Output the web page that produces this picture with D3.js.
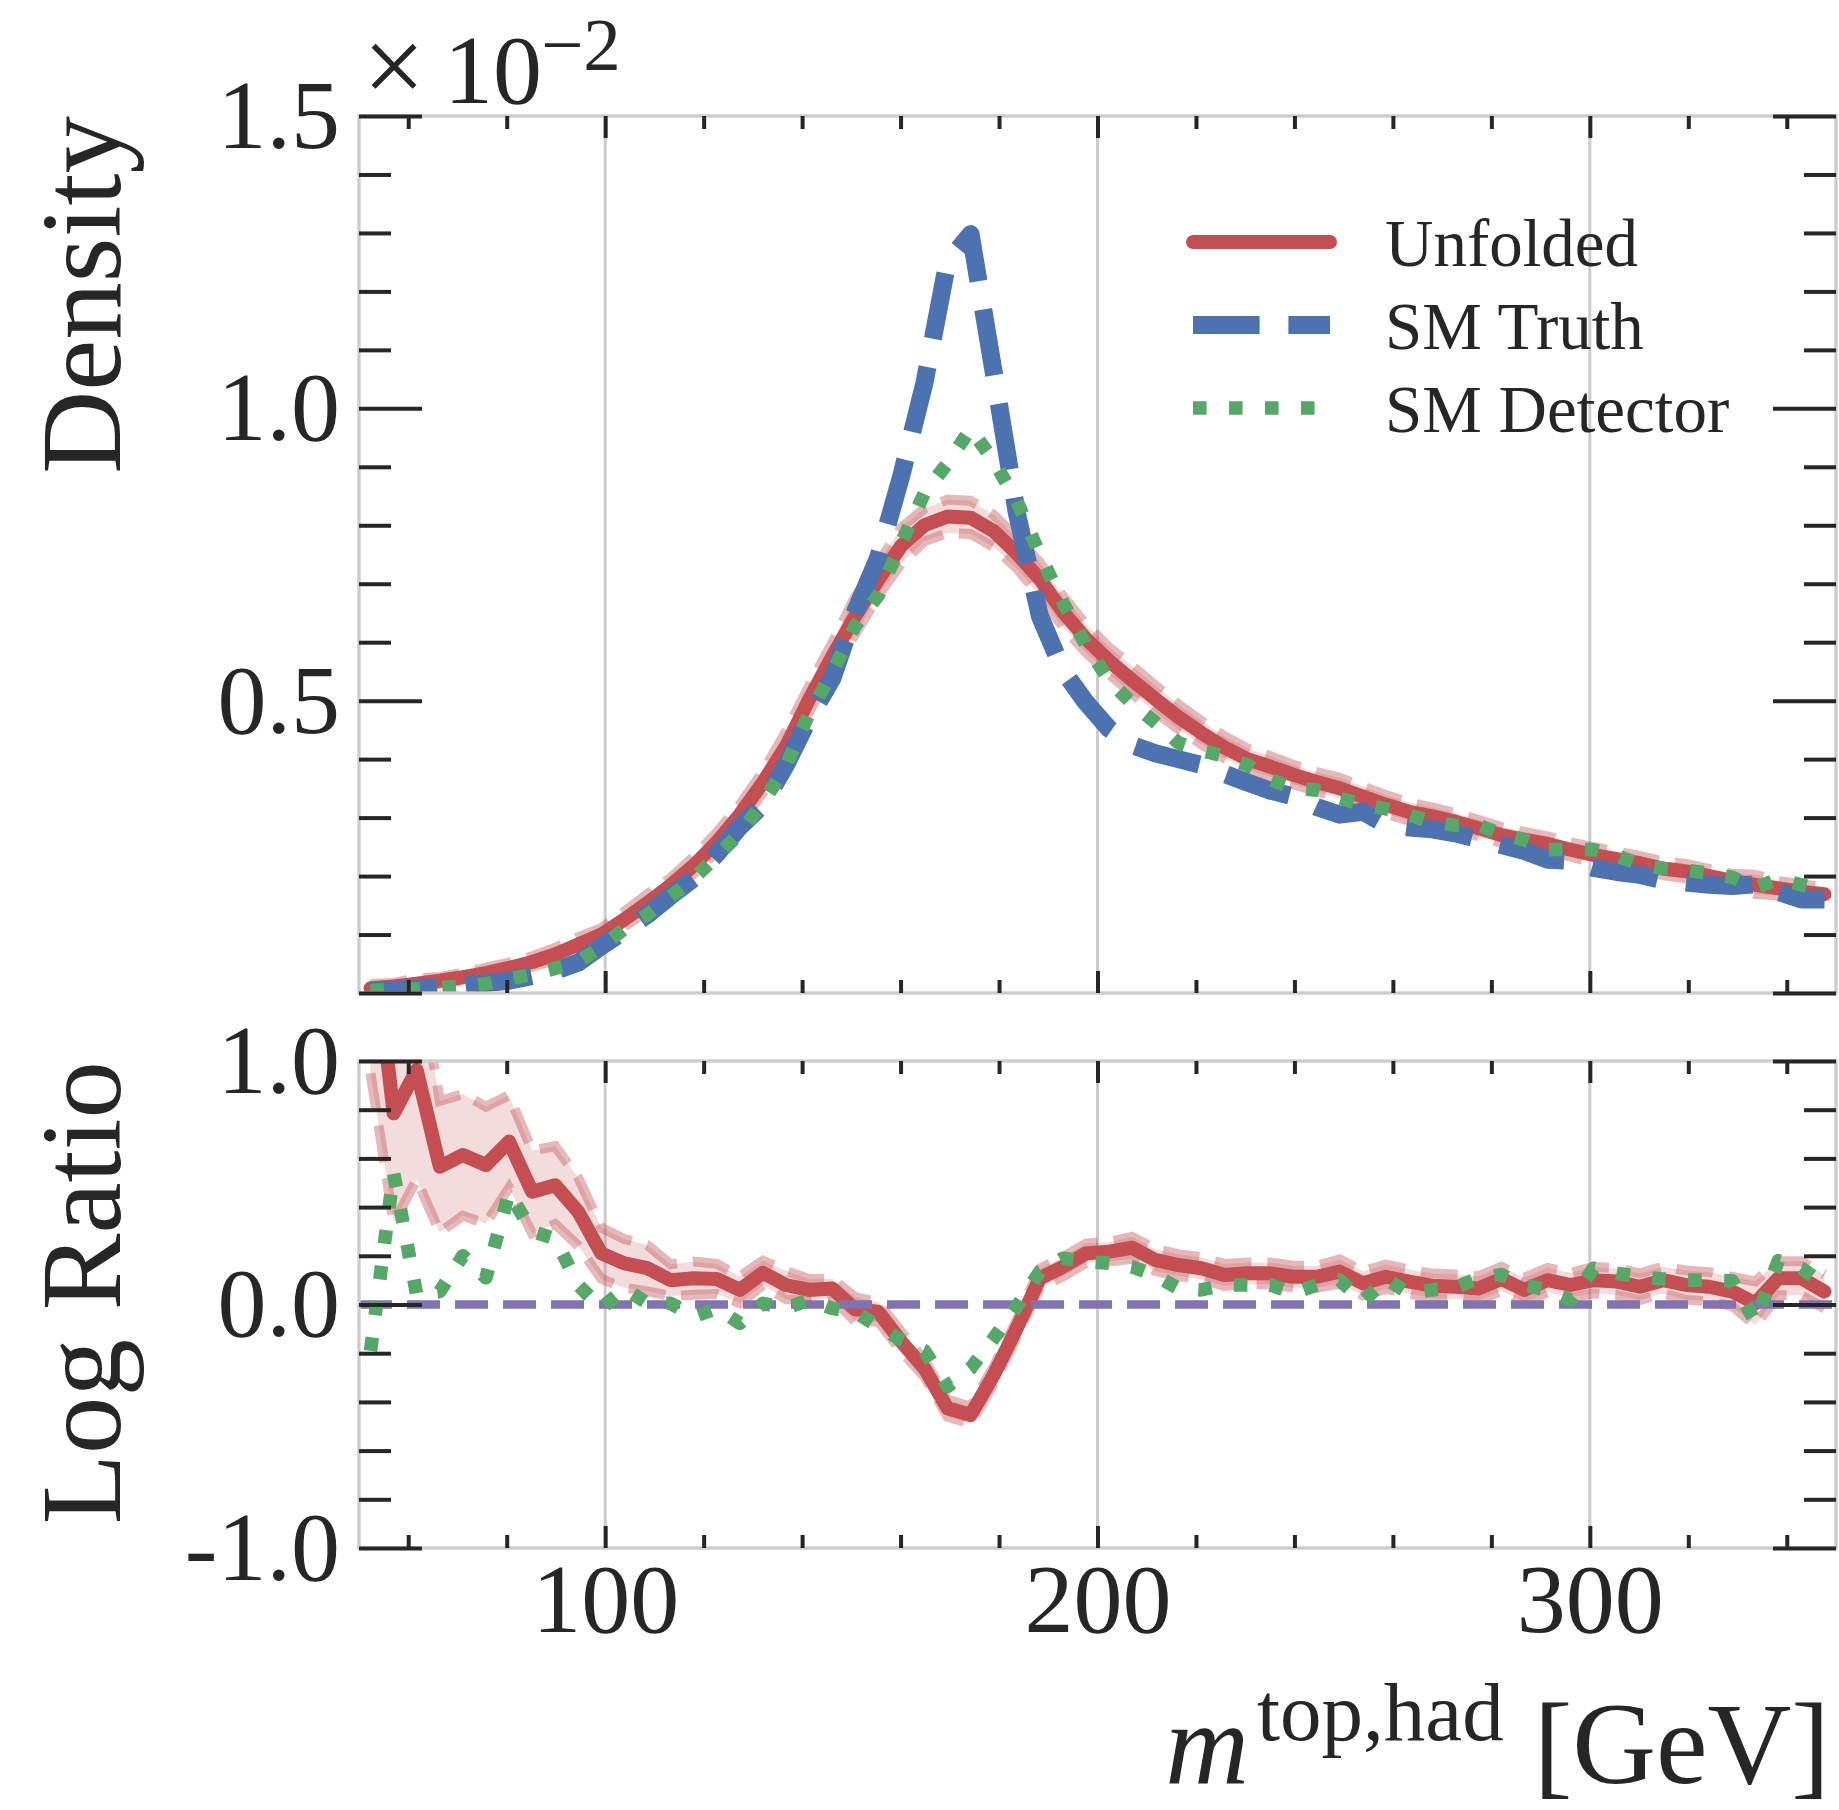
<!DOCTYPE html>
<html>
<head>
<meta charset="utf-8">
<script src="https://d3js.org/d3.v7.min.js"></script>
<style>
  body { margin: 0; background: #fff; }
  text { font-family: "Liberation Serif", "Times New Roman", serif; fill: #262626; }
</style>
</head>
<body>
<div id="chart-area"></div>
<script>

// bin centres of the hadronic top mass histogram (64 bins, 50 - 350 GeV)
var massBins = [52.34, 57.03, 61.72, 66.41, 71.09, 75.78, 80.47, 85.16, 89.84, 94.53,
  99.22, 103.91, 108.59, 113.28, 117.97, 122.66, 127.34, 132.03, 136.72, 141.41,
  146.09, 150.78, 155.47, 160.16, 164.84, 169.53, 174.22, 178.91, 183.59, 188.28,
  192.97, 197.66, 202.34, 207.03, 211.72, 216.41, 221.09, 225.78, 230.47, 235.16,
  239.84, 244.53, 249.22, 253.91, 258.59, 263.28, 267.97, 272.66, 277.34, 282.03,
  286.72, 291.41, 296.09, 300.78, 305.47, 310.16, 314.84, 319.53, 324.22, 328.91,
  333.59, 338.28, 342.97, 347.66];

// densities, in units of 1e-2
var unfolded = [0.008, 0.011, 0.016, 0.021, 0.027, 0.034, 0.043, 0.053, 0.066, 0.083,
  0.100, 0.126, 0.154, 0.184, 0.218, 0.258, 0.305, 0.360, 0.422, 0.502,
  0.575, 0.645, 0.707, 0.765, 0.800, 0.815, 0.813, 0.790, 0.752, 0.708,
  0.652, 0.606, 0.568, 0.535, 0.503, 0.472, 0.445, 0.420, 0.400, 0.387,
  0.373, 0.361, 0.350, 0.336, 0.322, 0.310, 0.302, 0.293, 0.282, 0.270,
  0.262, 0.255, 0.245, 0.236, 0.229, 0.222, 0.213, 0.208, 0.200, 0.192,
  0.185, 0.179, 0.173, 0.169];

var smTruth = [0.003, 0.005, 0.007, 0.011, 0.013, 0.017, 0.021, 0.029, 0.038, 0.052,
  0.080, 0.106, 0.134, 0.166, 0.196, 0.238, 0.284, 0.322, 0.390, 0.470,
  0.537, 0.652, 0.745, 0.885, 1.043, 1.250, 1.298, 1.062, 0.822, 0.645,
  0.552, 0.497, 0.452, 0.424, 0.410, 0.400, 0.390, 0.375, 0.360, 0.346,
  0.336, 0.318, 0.305, 0.310, 0.288, 0.283, 0.280, 0.273, 0.263, 0.253,
  0.243, 0.228, 0.226, 0.214, 0.207, 0.202, 0.193, 0.189, 0.185, 0.183,
  0.186, 0.173, 0.160, 0.160];

var smDetector = [0.004, 0.007, 0.007, 0.009, 0.012, 0.016, 0.024, 0.032, 0.042, 0.053,
  0.079, 0.110, 0.134, 0.165, 0.196, 0.234, 0.273, 0.325, 0.388, 0.478,
  0.548, 0.628, 0.680, 0.770, 0.855, 0.906, 0.965, 0.910, 0.842, 0.750,
  0.668, 0.595, 0.535, 0.495, 0.463, 0.428, 0.415, 0.405, 0.390, 0.365,
  0.350, 0.347, 0.333, 0.322, 0.315, 0.305, 0.292, 0.287, 0.287, 0.272,
  0.262, 0.245, 0.246, 0.245, 0.235, 0.220, 0.213, 0.210, 0.205, 0.198,
  0.180, 0.195, 0.185, 0.175];

// log ratio to SM Truth
var ratioUnfolded = [1.60, 0.785, 0.963, 0.566, 0.614, 0.573, 0.669, 0.463, 0.490, 0.381,
  0.210, 0.169, 0.149, 0.100, 0.108, 0.105, 0.060, 0.130, 0.080, 0.060,
  0.066, -0.020, -0.030, -0.153, -0.262, -0.426, -0.454, -0.290, -0.098, 0.107,
  0.155, 0.210, 0.217, 0.233, 0.183, 0.162, 0.149, 0.121, 0.128, 0.128,
  0.114, 0.114, 0.135, 0.087, 0.114, 0.094, 0.077, 0.073, 0.066, 0.105,
  0.060, 0.100, 0.080, 0.100, 0.094, 0.073, 0.100, 0.080, 0.073, 0.053,
  0.005, 0.108, 0.108, 0.053];

var ratioDetector = [-0.19, 0.54, 0.04, 0.053, 0.20, 0.11, 0.46, 0.30, 0.27, 0.08,
  -0.016, 0.066, 0.005, 0.005, -0.05, -0.016, -0.077, 0.005, -0.016, 0.02,
  -0.016, -0.03, -0.09, -0.146, -0.19, -0.337, -0.262, -0.139, -0.009, 0.135,
  0.19, 0.176, 0.17, 0.155, 0.12, 0.066, 0.06, 0.08, 0.08, 0.08,
  0.046, 0.08, 0.10, 0.012, 0.105, 0.046, 0.06, 0.07, 0.108, 0.122,
  0.08, 0.06, 0.018, 0.149, 0.128, 0.114, 0.105, 0.10, 0.10, 0.097,
  -0.07, 0.18, 0.15, 0.08];

// half width of the unfolded uncertainty band, in log space
var ratioErr = [0.65, 0.45, 0.45, 0.27, 0.25, 0.24, 0.19, 0.17, 0.16, 0.14,
  0.105, 0.10, 0.095, 0.065, 0.068, 0.062, 0.055, 0.05, 0.058, 0.045,
  0.04, 0.05, 0.04, 0.04, 0.035, 0.035, 0.035, 0.035, 0.035, 0.04,
  0.04, 0.04, 0.04, 0.045, 0.045, 0.045, 0.045, 0.045, 0.045, 0.045,
  0.045, 0.045, 0.05, 0.05, 0.05, 0.05, 0.05, 0.05, 0.05, 0.05,
  0.05, 0.05, 0.05, 0.055, 0.055, 0.055, 0.055, 0.06, 0.06, 0.06,
  0.09, 0.07, 0.07, 0.07];

var densityTicks = [0.5, 1.0, 1.5];
var ratioTicks = [-1, 0, 1];
var massTicks = [100, 200, 300];
var legendNames = ["Unfolded", "SM Truth", "SM Detector"];


function RatioChart(_parentElement) {
  this.parentElement = _parentElement;
  this.initVis();
}

RatioChart.prototype.initVis = function() {
  var vis = this;

  vis.red = "#C44E52";
  vis.blue = "#4C72B0";
  vis.green = "#55A868";
  vis.purple = "#8172B2";

  vis.svg = d3.select("#" + vis.parentElement).append("svg")
      .attr("width", 1839)
      .attr("height", 1810);

  vis.left = 359;
  vis.right = 1836;

  vis.x = d3.scaleLinear().domain([50, 350]).range([vis.left, vis.right]);
  vis.yTop = d3.scaleLinear().domain([0, 1.5]).range([993, 116]);
  vis.yBot = d3.scaleLinear().domain([-1, 1]).range([1548, 1061]);

  vis.rows = massBins.map(function(m, i) {
    return {
      m: m,
      unf: unfolded[i], truth: smTruth[i], det: smDetector[i],
      unfLo: unfolded[i] * Math.exp(-ratioErr[i]),
      unfHi: unfolded[i] * Math.exp(ratioErr[i]),
      rUnf: ratioUnfolded[i], rDet: ratioDetector[i],
      rLo: ratioUnfolded[i] - ratioErr[i],
      rHi: ratioUnfolded[i] + ratioErr[i]
    };
  });

  vis.top = vis.svg.append("g");
  vis.bot = vis.svg.append("g");

  //---------- top panel: densities
  vis.drawGrid(vis.top, vis.yTop);
  var topPlot = vis.top.append("g").attr("clip-path", "url(#" + vis.addClip("clip-top", vis.yTop) + ")");

  vis.drawBand(topPlot, vis.yTop, "unfLo", "unfHi");
  vis.drawLine(topPlot, vis.yTop, "unf", vis.red, 14, null, "round");
  vis.drawLine(topPlot, vis.yTop, "truth", vis.blue, 18, "66.6,28.8", "butt");
  vis.drawLine(topPlot, vis.yTop, "det", vis.green, 13.6, "13.6,22.4", "butt");

  var topMinor = d3.range(1, 15).map(function(d) { return d / 10; })
      .filter(function(d) { return Math.abs(d * 2 - Math.round(d * 2)) > 1e-6; });
  vis.drawFrame(vis.top, vis.yTop, [0].concat(densityTicks), topMinor,
      function(d) { return d === 0 ? "" : d3.format(".1f")(d); }, false);

  //---------- bottom panel: log ratio
  vis.drawGrid(vis.bot, vis.yBot);
  var botPlot = vis.bot.append("g").attr("clip-path", "url(#" + vis.addClip("clip-bot", vis.yBot) + ")");

  vis.drawBand(botPlot, vis.yBot, "rLo", "rHi");
  vis.drawLine(botPlot, vis.yBot, "rUnf", vis.red, 14, null, "round");

  botPlot.append("line")
    .attr("x1", vis.left).attr("x2", vis.right)
    .attr("y1", vis.yBot(0)).attr("y2", vis.yBot(0))
    .attr("stroke", vis.purple)
    .attr("stroke-width", 8.5)
    .attr("stroke-dasharray", "33,15");

  vis.drawLine(botPlot, vis.yBot, "rDet", vis.green, 13.6, "13.6,22.4", "butt");

  var botMinor = [-0.8, -0.6, -0.4, -0.2, 0.2, 0.4, 0.6, 0.8];
  vis.drawFrame(vis.bot, vis.yBot, ratioTicks, botMinor,
      function(d) { return d3.format(".1f")(d).replace("−", "-"); }, true);

  //---------- labels
  vis.svg.append("text")
    .attr("transform", "translate(120,116) rotate(-90)")
    .attr("text-anchor", "end")
    .attr("font-size", 115)
    .text("Density");

  vis.svg.append("text")
    .attr("transform", "translate(120,1061) rotate(-90)")
    .attr("text-anchor", "end")
    .attr("font-size", 115)
    .text("Log Ratio");

  // offset text of the density axis
  vis.svg.append("text").attr("x", 363).attr("y", 103).attr("font-size", 110).text("×");
  vis.svg.append("text").attr("x", 444).attr("y", 103).attr("font-size", 98).text("10");
  vis.svg.append("text").attr("x", 541).attr("y", 70).attr("font-size", 75).text("−2");

  // x axis label, built right to left
  var xRight = 1830;
  var unit = vis.svg.append("text")
    .attr("x", xRight).attr("y", 1783)
    .attr("text-anchor", "end")
    .attr("font-size", 116)
    .text("[GeV]");
  xRight -= unit.node().getComputedTextLength() + 30;

  var sup = vis.svg.append("text")
    .attr("x", xRight).attr("y", 1740)
    .attr("text-anchor", "end")
    .attr("font-size", 83)
    .text("top,had");
  xRight -= sup.node().getComputedTextLength() + 2;

  vis.svg.append("text")
    .attr("x", xRight - 6).attr("y", 1783)
    .attr("text-anchor", "end")
    .attr("font-size", 116)
    .attr("font-style", "italic")
    .text("m");

  //---------- legend
  var legendStyle = [
    { color: vis.red, width: 14, dash: null, cap: "round" },
    { color: vis.blue, width: 18, dash: "66.6,28.8", cap: "butt" },
    { color: vis.green, width: 13.6, dash: "13.6,22.4", cap: "butt" }
  ];

  var legend = vis.svg.append("g").attr("class", "legend");
  legendNames.forEach(function(name, i) {
    var ly = 242 + i * 83;
    legend.append("line")
      .attr("x1", 1193).attr("x2", 1330)
      .attr("y1", ly).attr("y2", ly)
      .attr("stroke", legendStyle[i].color)
      .attr("stroke-width", legendStyle[i].width)
      .attr("stroke-linecap", legendStyle[i].cap)
      .attr("stroke-dasharray", legendStyle[i].dash);
    legend.append("text")
      .attr("x", 1385)
      .attr("y", ly + 24)
      .attr("font-size", 67)
      .text(name);
  });
};

RatioChart.prototype.addClip = function(id, y) {
  var vis = this;
  vis.svg.append("clipPath")
    .attr("id", id)
    .append("rect")
    .attr("x", vis.left)
    .attr("y", y.range()[1])
    .attr("width", vis.right - vis.left)
    .attr("height", y.range()[0] - y.range()[1]);
  return id;
};

RatioChart.prototype.drawGrid = function(g, y) {
  var vis = this;
  g.selectAll(".grid")
    .data(massTicks)
    .enter().append("line")
    .attr("class", "grid")
    .attr("x1", function(d) { return vis.x(d); })
    .attr("x2", function(d) { return vis.x(d); })
    .attr("y1", y.range()[0])
    .attr("y2", y.range()[1])
    .attr("stroke", "#cccccc")
    .attr("stroke-width", 3);
};

RatioChart.prototype.drawBand = function(g, y, lo, hi) {
  var vis = this;

  var area = d3.area()
    .x(function(d) { return vis.x(d.m); })
    .y0(function(d) { return y(d[lo]); })
    .y1(function(d) { return y(d[hi]); });

  g.append("path")
    .datum(vis.rows)
    .attr("d", area)
    .attr("fill", vis.red)
    .attr("fill-opacity", 0.2);

  [lo, hi].forEach(function(key) {
    var edge = d3.line()
      .x(function(d) { return vis.x(d.m); })
      .y(function(d) { return y(d[key]); });
    g.append("path")
      .datum(vis.rows)
      .attr("d", edge)
      .attr("fill", "none")
      .attr("stroke", vis.red)
      .attr("stroke-opacity", 0.4)
      .attr("stroke-width", 10)
      .attr("stroke-dasharray", "37,16");
  });
};

RatioChart.prototype.drawLine = function(g, y, key, color, width, dash, cap) {
  var vis = this;
  var line = d3.line()
    .x(function(d) { return vis.x(d.m); })
    .y(function(d) { return y(d[key]); });

  g.append("path")
    .datum(vis.rows)
    .attr("d", line)
    .attr("fill", "none")
    .attr("stroke", color)
    .attr("stroke-width", width)
    .attr("stroke-linejoin", "round")
    .attr("stroke-linecap", cap)
    .attr("stroke-dasharray", dash);
};

RatioChart.prototype.drawFrame = function(g, y, yMajor, yMinor, yFormat, xLabels) {
  var vis = this;
  var yBottom = y.range()[0], yTopEdge = y.range()[1];

  // light grey spines
  g.append("rect")
    .attr("x", vis.left)
    .attr("y", yTopEdge)
    .attr("width", vis.right - vis.left)
    .attr("height", yBottom - yTopEdge)
    .attr("fill", "none")
    .attr("stroke", "#cccccc")
    .attr("stroke-width", 3.3);

  var xMinor = d3.range(60, 350, 20).filter(function(d) { return d % 100 !== 0; });

  var axes = [
    [d3.axisLeft(y).tickValues(yMajor).tickSize(-63).tickPadding(19).tickFormat(yFormat), vis.left, 0],
    [d3.axisLeft(y).tickValues(yMinor).tickSize(-32).tickFormat(""), vis.left, 0],
    [d3.axisRight(y).tickValues(yMajor).tickSize(-63).tickFormat(""), vis.right, 0],
    [d3.axisRight(y).tickValues(yMinor).tickSize(-32).tickFormat(""), vis.right, 0],
    [d3.axisBottom(vis.x).tickValues(massTicks).tickSize(-22).tickPadding(14)
        .tickFormat(xLabels ? d3.format("d") : ""), 0, yBottom],
    [d3.axisBottom(vis.x).tickValues(xMinor).tickSize(-13).tickFormat(""), 0, yBottom],
    [d3.axisTop(vis.x).tickValues(massTicks).tickSize(-22).tickFormat(""), 0, yTopEdge],
    [d3.axisTop(vis.x).tickValues(xMinor).tickSize(-13).tickFormat(""), 0, yTopEdge]
  ];

  axes.forEach(function(a) {
    var ag = g.append("g")
      .attr("transform", "translate(" + a[1] + "," + a[2] + ")")
      .call(a[0]);
    ag.select(".domain").remove();
    ag.attr("font-size", 98)
      .attr("font-family", "Liberation Serif, Times New Roman, serif");
    ag.selectAll(".tick line")
      .attr("stroke", "#262626")
      .attr("stroke-width", 4);
    ag.selectAll(".tick text")
      .attr("fill", "#262626");
  });
};

new RatioChart("chart-area");

</script>
</body>
</html>
